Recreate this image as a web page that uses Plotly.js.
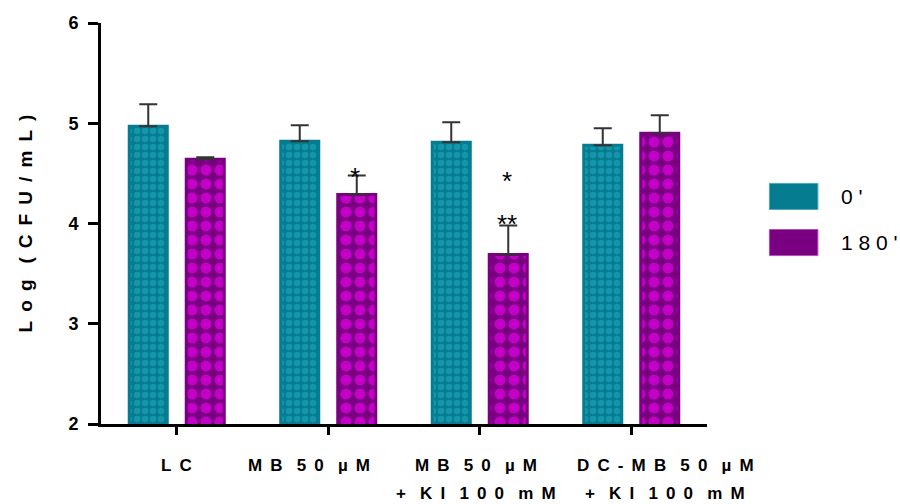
<!DOCTYPE html>
<html><head><meta charset="utf-8">
<script src="https://cdn.plot.ly/plotly-3.0.1.min.js"></script>
<style>html,body{margin:0;padding:0;background:#fff}#c{width:900px;height:504px}</style>
</head><body><div id="c"></div>
<script>
const categories = ["LC", "MB 50 µM", "MB 50 µM + KI 100 mM", "DC-MB 50 µM + KI 100 mM"];
const tickLine1 = ["LC", "MB 50 µM", "MB 50 µM", "DC-MB 50 µM"];
const tickLine2 = ["", "", "+ KI 100 mM", "+ KI 100 mM"];
const yTicks = [2, 3, 4, 5, 6];
const series0 = [4.97, 4.82, 4.81, 4.78];
const err0 = [0.22, 0.16, 0.20, 0.17];
const series180 = [4.64, 4.29, 3.69, 4.90];
const err180 = [0.02, 0.19, 0.29, 0.18];
const seriesNames = ["0'", "180'"];
const yTitle = "Log (CFU/mL)";
const sigMarks = [
  {cat: 1, y: 4.50, text: "*"},
  {cat: 2, y: 4.46, text: "*"},
  {cat: 2, y: 4.03, text: "**"}
];

const FONT = 'Liberation Sans, Arial, sans-serif';
const idx = categories.map((_, i) => i);
const labelShift = [0, -19, -4, 34];
function spaced(s) {
  return s.split(' ').map(w => w.split('').join('\u00A0\u2009')).join('\u00A0\u00A0\u00A0');
}

const traces = [
  {type: 'bar', x: idx, y: series0, name: seriesNames[0],
   marker: {color: '#067c91', line: {color: '#067c91', width: 3},
            pattern: {shape: '.', fgcolor: '#1396aa', bgcolor: '#067c91', size: 8, solidity: 0.5, fillmode: 'replace'}},
   error_y: {type: 'data', symmetric: false, array: err0, arrayminus: err0.map(() => 0), color: '#333', thickness: 2, width: 9}},
  {type: 'bar', x: idx, y: series180, name: seriesNames[1],
   marker: {color: '#790080', line: {color: '#790080', width: 3},
            pattern: {shape: '.', fgcolor: '#c400c8', bgcolor: '#790080', size: 14, solidity: 0.5, fillmode: 'replace'}},
   error_y: {type: 'data', symmetric: false, array: err180, arrayminus: err180.map(() => 0), color: '#333', thickness: 2, width: 9}}
];

const annotations = [];
idx.forEach(i => {
  annotations.push({x: i, xref: 'x', y: 0, yref: 'paper', yanchor: 'middle', xshift: labelShift[i], yshift: -41,
    text: '<b>' + spaced(tickLine1[i]) + '</b>', showarrow: false, font: {family: FONT, size: 17, color: '#000'}});
  if (tickLine2[i]) annotations.push({x: i, xref: 'x', y: 0, yref: 'paper', yanchor: 'middle', xshift: labelShift[i], yshift: -69,
    text: '<b>' + spaced(tickLine2[i]) + '</b>', showarrow: false, font: {family: FONT, size: 17, color: '#000'}});
});
sigMarks.forEach(s => annotations.push({
  x: s.cat, xref: 'x', y: s.y, yref: 'y', xshift: 27, yanchor: 'middle', yshift: -4,
  text: s.text, showarrow: false, font: {family: FONT, size: 26, color: '#000'}
}));
// manual legend
const legendColors = ['#067c91', '#790080'];
const legendEdge = ['#4fa8b8', '#b050b8'];
const shapes = [];
seriesNames.forEach((n, i) => {
  const y1 = 0.600 - i * 0.115;
  shapes.push({type: 'rect', xref: 'paper', yref: 'paper', x0: 1.103, x1: 1.183, y0: y1 - 0.065, y1: y1,
    fillcolor: legendColors[i], line: {color: legendEdge[i], width: 1}});
  annotations.push({xref: 'paper', yref: 'paper', x: 1.218, y: y1 - 0.0325, xanchor: 'left', yanchor: 'middle',
    text: n.split('').join('\u00A0'), showarrow: false, font: {family: FONT, size: 21, color: '#000'}});
});

const layout = {
  width: 900, height: 504,
  margin: {l: 101, r: 193, t: 23, b: 80},
  paper_bgcolor: '#fff', plot_bgcolor: '#fff',
  showlegend: false,
  barmode: 'group', bargap: 0.2475, bargroupgap: 0.333,
  font: {family: FONT, color: '#000'},
  xaxis: {range: [-0.5, 3.5], tickvals: idx, ticktext: idx.map(() => ''), showline: true, linecolor: '#000', linewidth: 3,
          ticks: 'outside', ticklen: 8, tickwidth: 3, tickcolor: '#000', showgrid: false, zeroline: false, fixedrange: true},
  yaxis: {range: [2, 6], tickvals: yTicks, ticktext: yTicks.map(v => '<b>' + v + '</b>'), showline: true, linecolor: '#000', linewidth: 3,
          ticks: 'outside', ticklen: 10, tickwidth: 3, tickcolor: '#000', showgrid: false, zeroline: false,
          ticklabelstandoff: 6,
          tickfont: {size: 18, family: FONT, weight: 'bold'},
          title: {text: '<b>' + spaced(yTitle) + '</b>', font: {size: 19, family: FONT}, standoff: 31}},
  annotations: annotations,
  shapes: shapes
};
Plotly.newPlot('c', traces, layout, {displayModeBar: false, staticPlot: true});
</script></body></html>
